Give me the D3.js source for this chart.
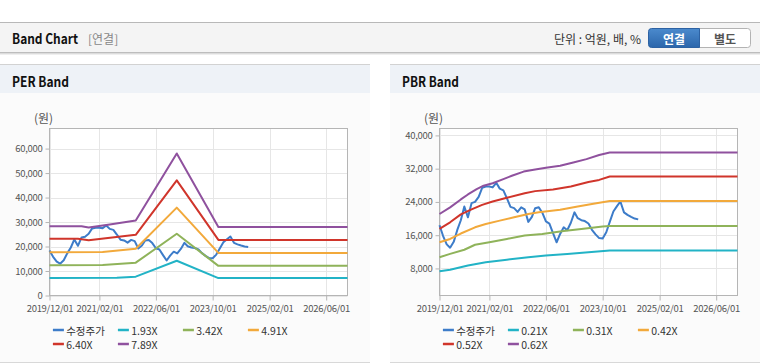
<!DOCTYPE html>
<html><head><meta charset="utf-8">
<script src="https://cdn.jsdelivr.net/npm/d3@7"></script>
<style>
html,body{margin:0;padding:0;background:#fff;}
svg{display:block;}
text{font-family:"Noto Sans CJK KR","Liberation Sans",sans-serif;}
</style></head><body>
<svg id="c" width="760" height="364"></svg>
<script>
// ---------------- DATA ----------------
const xTickDates = ["2019-12-01","2021-02-01","2022-06-01","2023-10-01","2025-02-01","2026-06-01"];
const xDomain = ["2019-12-01","2026-12-01"];

const priceMonths = ["2019-12",
 "2020-01","2020-02","2020-03","2020-04","2020-05","2020-06","2020-07","2020-08","2020-09","2020-10","2020-11","2020-12",
 "2021-01","2021-02","2021-03","2021-04","2021-05","2021-06","2021-07","2021-08","2021-09","2021-10","2021-11","2021-12",
 "2022-01","2022-02","2022-03","2022-04","2022-05","2022-06","2022-07","2022-08","2022-09","2022-10","2022-11","2022-12",
 "2023-01","2023-02","2023-03","2023-04","2023-05","2023-06","2023-07","2023-08","2023-09","2023-10","2023-11","2023-12",
 "2024-01","2024-02","2024-03","2024-04","2024-05","2024-06","2024-07","2024-08"];
const priceValues = [18400,
 15800,13800,13000,14400,17200,19600,22900,20300,23700,24000,25200,27400,
 27700,27700,27500,28600,27200,26800,24900,22800,22500,21600,22700,22200,
 19200,20400,22500,22700,21400,19300,18800,16500,14300,16300,17900,17200,
 19000,21500,20100,19600,19400,18800,17300,16200,15300,15200,16700,19200,
 21700,23000,24100,21500,20900,20400,20000,19800];

// PER band vertices [date, value]
const per193 = [["2019-12-01",7100],["2021-07-01",7200],["2021-12-10",7700],["2022-11-27",14200],["2023-11-19",7100],["2026-12-01",7100]];
const per342 = [["2019-12-01",12400],["2021-03-01",12500],["2021-12-10",13400],["2022-11-27",25200],["2023-11-19",12100],["2026-12-01",12100]];
const per491 = [["2019-12-01",17700],["2021-03-01",17800],["2021-12-10",19100],["2022-11-27",35900],["2023-11-19",17400],["2026-12-01",17400]];
const per640 = [["2019-12-01",23200],["2020-08-01",23200],["2020-11-01",22600],["2021-12-10",24800],["2022-11-27",47000],["2023-11-19",22700],["2026-12-01",22700]];
const per789 = [["2019-12-01",28300],["2020-09-01",28300],["2020-11-01",27800],["2021-05-01",29000],["2021-12-10",30600],["2022-11-27",58000],["2023-11-19",28000],["2026-12-01",28000]];

// PBR band vertices [date, value]
const pbr021 = [["2019-12-01",7300],["2020-03-01",7700],["2020-08-01",8700],["2021-01-01",9500],["2021-07-01",10100],["2022-01-01",10700],["2022-06-01",11100],["2022-12-01",11500],["2023-06-01",11900],["2023-12-01",12300],["2026-12-01",12300]];
const pbr031 = [["2019-12-01",10700],["2020-03-01",11500],["2020-07-01",12500],["2020-10-01",13700],["2021-02-01",14300],["2021-07-01",15100],["2021-12-01",15900],["2022-05-01",16300],["2022-11-01",17000],["2023-04-01",17500],["2023-10-01",18100],["2023-12-01",18200],["2026-12-01",18200]];
const pbr042 = [["2019-12-01",14300],["2020-03-01",15100],["2020-06-01",16400],["2020-10-01",17900],["2021-01-01",18700],["2021-05-01",19500],["2021-09-01",20300],["2022-01-01",21100],["2022-04-01",21500],["2022-10-01",22100],["2023-03-01",22900],["2023-07-01",23500],["2023-12-01",24200],["2026-12-01",24200]];
const pbr052 = [["2019-12-01",17500],["2020-03-01",19100],["2020-06-01",21000],["2020-09-01",22200],["2020-12-01",23300],["2021-03-01",24100],["2021-07-01",25000],["2021-12-01",26100],["2022-03-01",26600],["2022-08-01",27000],["2023-01-01",27700],["2023-06-01",28800],["2023-09-01",29300],["2023-12-01",30100],["2026-12-01",30100]];
const pbr062 = [["2019-12-01",21100],["2020-03-01",22700],["2020-06-01",24600],["2020-08-01",25800],["2020-10-15",27100],["2020-12-13",27900],["2021-03-01",28500],["2021-06-01",29500],["2021-08-13",30300],["2021-11-22",31300],["2022-03-01",31800],["2022-06-01",32200],["2022-10-01",32700],["2023-01-22",33500],["2023-05-15",34300],["2023-09-01",35300],["2023-12-01",35900],["2026-12-01",35900]];

const perLabels = ["수정주가","1.93X","3.42X","4.91X","6.40X","7.89X"];
const pbrLabels = ["수정주가","0.21X","0.31X","0.42X","0.52X","0.62X"];
const seriesColors = ["#3d7cc9","#22b3c6","#8fb35a","#f2a93b","#d0352b","#8f519e"];
const perTicks = [0,10000,20000,30000,40000,50000,60000];
const pbrTicks = [8000,16000,24000,32000,40000];

// ---------------- DRAW ----------------
const parseD = d3.timeParse("%Y-%m-%d");
const parseM = d3.timeParse("%Y-%m");
const svg = d3.select("#c");

// top header bar
svg.append("rect").attr("x",0).attr("y",22.5).attr("width",760).attr("height",30).attr("fill","#f4f4f4");
svg.append("line").attr("x1",0).attr("x2",760).attr("y1",22.5).attr("y2",22.5).attr("stroke","#b8b8b8");
svg.append("line").attr("x1",0).attr("x2",760).attr("y1",52.5).attr("y2",52.5).attr("stroke","#bdbdbd");
svg.append("line").attr("x1",0).attr("x2",760).attr("y1",53.5).attr("y2",53.5).attr("stroke","#dcdcdc");
svg.append("line").attr("x1",0).attr("x2",760).attr("y1",54.5).attr("y2",54.5).attr("stroke","#efefef");
svg.append("text").attr("x",12).attr("y",38).attr("dominant-baseline","central")
  .attr("font-size",14).attr("font-weight","bold").attr("fill","#111")
  .attr("textLength",66).attr("lengthAdjust","spacingAndGlyphs").text("Band Chart");
svg.append("text").attr("x",88).attr("y",38).attr("dominant-baseline","central")
  .attr("font-size",12).attr("fill","#888").text("[연결]");
svg.append("text").attr("x",641).attr("y",38).attr("dominant-baseline","central").attr("text-anchor","end")
  .attr("font-size",12).attr("fill","#333").text("단위 : 억원, 배, %");

const defs = svg.append("defs");
const gr = defs.append("linearGradient").attr("id","btn").attr("x1",0).attr("x2",0).attr("y1",0).attr("y2",1);
gr.append("stop").attr("offset","0%").attr("stop-color","#4b8acd");
gr.append("stop").attr("offset","100%").attr("stop-color","#2b66ab");
// buttons
svg.append("path").attr("d","M699.5,28.5 H747.5 a3,3 0 0 1 3,3 V44.5 a3,3 0 0 1 -3,3 H699.5 Z")
  .attr("fill","#fff").attr("stroke","#b3b3b3");
svg.append("path").attr("d","M699.5,28.5 H651.5 a3,3 0 0 0 -3,3 V44.5 a3,3 0 0 0 3,3 H699.5 Z")
  .attr("fill","url(#btn)").attr("stroke","#2d62a3");
svg.append("text").attr("x",674).attr("y",38).attr("dominant-baseline","central").attr("text-anchor","middle")
  .attr("font-size",12).attr("font-weight","bold").attr("fill","#fff").text("연결");
svg.append("text").attr("x",725).attr("y",38).attr("dominant-baseline","central").attr("text-anchor","middle")
  .attr("font-size",12).attr("font-weight","bold").attr("fill","#555").text("별도");

function panel(x0, w, title){
  svg.append("rect").attr("x",x0).attr("y",64.5).attr("width",w).attr("height",298).attr("fill","#fbfbfb");
  svg.append("rect").attr("x",x0).attr("y",64.5).attr("width",w).attr("height",28.5).attr("fill","#eef2f7");
  svg.append("line").attr("x1",x0).attr("x2",x0+w).attr("y1",64.5).attr("y2",64.5).attr("stroke","#d2d2d2");
  svg.append("line").attr("x1",x0).attr("x2",x0+w).attr("y1",362.5).attr("y2",362.5).attr("stroke","#d8d8d8");
  svg.append("text").attr("x",x0+12).attr("y",80.5).attr("dominant-baseline","central")
    .attr("font-size",14).attr("font-weight","bold").attr("fill","#111")
    .attr("textLength",57).attr("lengthAdjust","spacingAndGlyphs").text(title);
}
panel(0,370,"PER Band");
panel(390,370,"PBR Band");

const priceData = priceMonths.map((m,i)=>[parseM(m), priceValues[i]]);

function drawChart(cfg){
  const g = svg.append("g");
  const x = d3.scaleTime().domain(xDomain.map(parseD)).range([cfg.left, cfg.right]);
  const y = d3.scaleLinear().domain(cfg.yDomain).range([cfg.bottom, cfg.top]);
  const xt = xTickDates.map(parseD);
  g.append("rect").attr("x",cfg.left).attr("y",cfg.top).attr("width",cfg.right-cfg.left)
    .attr("height",cfg.bottom-cfg.top).attr("fill","#fff");
  g.selectAll(".gx").data(xt).join("line").attr("class","gx")
    .attr("x1",d=>Math.round(x(d))+0.5).attr("x2",d=>Math.round(x(d))+0.5)
    .attr("y1",cfg.top).attr("y2",cfg.bottom).attr("stroke","#e6e6e6");
  g.selectAll(".gy").data(cfg.yTicks).join("line").attr("class","gy")
    .attr("y1",d=>Math.round(y(d))+0.5).attr("y2",d=>Math.round(y(d))+0.5)
    .attr("x1",cfg.left).attr("x2",cfg.right).attr("stroke","#e6e6e6");
  g.append("rect").attr("x",cfg.left).attr("y",cfg.top).attr("width",cfg.right-cfg.left)
    .attr("height",cfg.bottom-cfg.top).attr("fill","none").attr("stroke","#b5b5b5");

  const ax = g.append("g").attr("transform",`translate(0,${cfg.bottom})`)
    .call(d3.axisBottom(x).tickValues(xt).tickFormat(d3.timeFormat("%Y/%m/%d")).tickSize(5).tickPadding(4.5));
  const ay = g.append("g").attr("transform",`translate(${cfg.left},0)`)
    .call(d3.axisLeft(y).tickValues(cfg.yTicks).tickFormat(d3.format(",")).tickSize(4).tickPadding(3));
  [ax,ay].forEach(a=>{
    a.select(".domain").remove();
    a.selectAll(".tick line").attr("stroke","#b5b5b5");
    a.selectAll(".tick text").attr("fill","#555").attr("font-size",9.5)
      .attr("font-family","'Liberation Sans',Arial,sans-serif").attr("letter-spacing","-0.3px");
  });
  g.append("text").attr("x",cfg.left-6).attr("y",117.5).attr("text-anchor","middle").attr("dominant-baseline","central")
    .attr("font-size",12).attr("fill","#555").text("(원)");

  const line = d3.line().x(d=>x(d[0])).y(d=>y(d[1]));
  g.append("path").datum(priceData).attr("d",line).attr("fill","none")
    .attr("stroke",seriesColors[0]).attr("stroke-width",2).attr("stroke-linejoin","round");
  cfg.bands.forEach((b,i)=>{
    g.append("path").datum(b.map(p=>[parseD(p[0]),p[1]])).attr("d",line).attr("fill","none")
      .attr("stroke",seriesColors[i+1]).attr("stroke-width",2).attr("stroke-linejoin","round");
  });

  // legend
  const lg = g.append("g");
  cfg.labels.forEach((lab,i)=>{
    const lx = cfg.left + 3.4 + (i%4)*65;
    const ly = i<4 ? 330 : 344;
    lg.append("line").attr("x1",lx).attr("x2",lx+11).attr("y1",ly).attr("y2",ly)
      .attr("stroke",seriesColors[i]).attr("stroke-width",2.5);
    lg.append("text").attr("x",lx+13.3).attr("y",ly).attr("dominant-baseline","central")
      .attr("font-size",10.5).attr("fill","#333")
      .attr("font-family", i===0 ? "'Noto Sans CJK KR',sans-serif" : "'Liberation Sans',Arial,sans-serif")
      .text(lab);
  });
}

drawChart({left:49.5,right:347.5,top:128.5,bottom:295.5,yDomain:[0,68200],yTicks:perTicks,
  bands:[per193,per342,per491,per640,per789],labels:perLabels});
drawChart({left:439.5,right:737.5,top:128.5,bottom:295.5,yDomain:[1494,41663],yTicks:pbrTicks,
  bands:[pbr021,pbr031,pbr042,pbr052,pbr062],labels:pbrLabels});
</script>
</body></html>
